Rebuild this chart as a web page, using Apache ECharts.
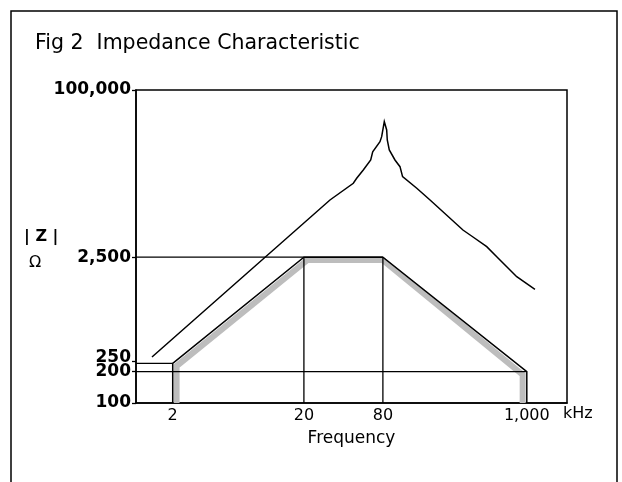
<!DOCTYPE html>
<html><head><meta charset="utf-8">
<script src="https://cdn.jsdelivr.net/npm/echarts@6/dist/echarts.min.js"></script>
<style>html,body{margin:0;padding:0;background:#fff}#c{width:622px;height:482px}</style>
</head><body><div id="c"></div>
<script>
const titleText = 'Fig 2  Impedance Characteristic';
const xName = 'Frequency';
const xUnit = 'kHz';
const yName = '| Z |';
const yUnit = 'Ω';
const xTickValues = [2, 20, 80, 1000];
const xTickLabels = ['2', '20', '80', '1,000'];
const yTickValues = [100, 200, 250, 2500, 100000];
const yTickLabels = ['100', '200', '250', '2,500', '100,000'];
const xRange = [1.05, 2025];
const yRange = [100, 100000];
// measured |Z| curve (kHz, ohm)
const curveFreq = [1.39, 31.6, 47.6, 50.5, 56.7, 64.6, 66.9, 76, 78.3, 82, 85.5, 86.4, 89.5, 98.9, 108, 113, 145, 183, 326, 389, 495, 590, 838, 1154];
const curveZ = [276, 8830, 12760, 14250, 17120, 21340, 25620, 31960, 35690, 49690, 41370, 33170, 26610, 21340, 18410, 14760, 11430, 8830, 4550, 3900, 3150, 2525, 1624, 1230];
// ideal characteristic (trapezoid)
const idealFreq = [2, 2, 20, 80, 1000, 1000];
const idealZ = [100, 240, 2500, 2500, 200, 100];
// gray shading band along the inside of the trapezoid
const bandFreq = [2.14, 2.14, 21.3, 79.6, 930, 930];
const bandZ = [100, 226, 2350, 2350, 187, 100];
// guide lines
const guideFreq = [[1.05, 80], [20, 20], [80, 80], [1.05, 1000], [1.05, 2]];
const guideZ = [[2500, 2500], [2500, 100], [2500, 100], [200, 200], [240, 240]];

const L = Math.log10;
const pts = (fs, zs) => fs.map((f, i) => [L(f), L(zs[i])]);
const findLabel = (vals, labels, v) => {
  for (let i = 0; i < vals.length; i++) if (Math.abs(L(vals[i]) - v) < 1e-6) return labels[i];
  return '';
};
const baseLine = (data, color, width, z) => ({
  type: 'line', data: data, symbol: 'none', silent: true, z: z,
  lineStyle: { color: color, width: width, join: 'miter', cap: 'butt' }
});

const series = [];
series.push(baseLine(pts(bandFreq, bandZ), '#bdbdbd', 6, 1));
guideFreq.forEach((g, i) => series.push(baseLine(pts(g, guideZ[i]), '#000', 1.3, 2)));
series.push(baseLine(pts(idealFreq, idealZ), '#000', 1.5, 3));
series.push(baseLine(pts(curveFreq, curveZ), '#000', 1.5, 4));

const chart = echarts.init(document.getElementById('c'), null, { renderer: 'canvas' });
chart.setOption({
  animation: false,
  backgroundColor: '#fff',
  title: {
    text: titleText, left: 30, top: 28,
    textStyle: { fontFamily: 'DejaVu Sans', fontSize: 20.5, fontWeight: 'normal', color: '#000' }
  },
  grid: {
    left: 136, top: 90, right: 55, bottom: 79,
    show: true, borderColor: '#000', borderWidth: 1.5, backgroundColor: 'transparent'
  },
  xAxis: {
    type: 'value', min: L(xRange[0]), max: L(xRange[1]),
    name: xName, nameLocation: 'middle', nameGap: 27,
    nameTextStyle: { fontFamily: 'DejaVu Sans', fontSize: 17, color: '#000' },
    axisLine: { show: true, lineStyle: { color: '#000', width: 1.5 } },
    axisTick: { show: false },
    splitLine: { show: false },
    axisLabel: {
      customValues: xTickValues.map(L), margin: 5,
      fontFamily: 'DejaVu Sans', fontSize: 16, color: '#000',
      formatter: v => findLabel(xTickValues, xTickLabels, v)
    }
  },
  yAxis: {
    type: 'value', min: L(yRange[0]), max: L(yRange[1]),
    axisLine: { show: true, lineStyle: { color: '#000', width: 1.5 } },
    axisTick: { show: true, customValues: yTickValues.map(L), length: 4, lineStyle: { color: '#000', width: 1.3 } },
    splitLine: { show: false },
    axisLabel: {
      customValues: yTickValues.map(L), margin: 5,
      fontFamily: 'DejaVu Sans', fontSize: 17, fontWeight: 'bold', color: '#000',
      formatter: v => {
        const t = findLabel(yTickValues, yTickLabels, v);
        return t === '250' ? '{up|' + t + '}' : t;
      },
      rich: { up: { fontFamily: 'DejaVu Sans', fontSize: 17, fontWeight: 'bold', color: '#000', padding: [0, 0, 8, 0] } }
    }
  },
  graphic: [
    { type: 'rect', silent: true, shape: { x: 11, y: 11, width: 606, height: 500 },
      style: { fill: 'none', stroke: '#000', lineWidth: 1.5 } },
    { type: 'text', silent: true, x: 24, y: 237,
      style: { text: yName, font: 'bold 16px "DejaVu Sans"', fill: '#000', verticalAlign: 'middle' } },
    { type: 'text', silent: true, x: 29, y: 263,
      style: { text: yUnit, font: '16px "DejaVu Sans"', fill: '#000', verticalAlign: 'middle' } },
    { type: 'text', silent: true, x: 563, y: 414,
      style: { text: xUnit, font: '16px "DejaVu Sans"', fill: '#000', verticalAlign: 'middle' } }
  ],
  series: series
});
</script>
</body></html>
